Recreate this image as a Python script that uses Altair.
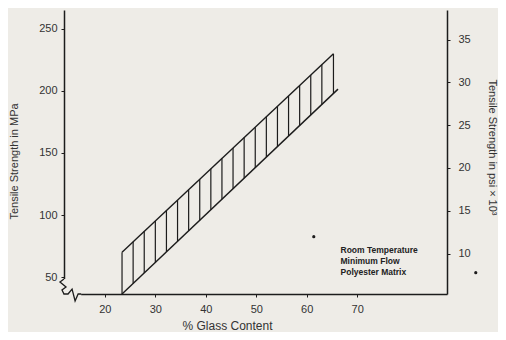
import altair as alt
import pandas as pd

# ---- data ----
x_domain = [11.9, 87.8]          # % glass content
mpa_domain = [36.3, 265.3]       # MPa
MPA_PER_KSI = 6.895
psi_domain = [mpa_domain[0] / MPA_PER_KSI, mpa_domain[1] / MPA_PER_KSI]

x_ticks = [20, 30, 40, 50, 60, 70]
mpa_ticks = [50, 100, 150, 200, 250]
psi_ticks = [10, 15, 20, 25, 30, 35]

# band boundaries
upper_x = [23.4, 65.3]
upper_y = [70.0, 230.0]
lower_x = [23.4, 66.2]
lower_y = [36.3, 201.5]

# vertical hatch lines of the band
hatch_x = [23.4, 25.6, 27.8, 30.0, 32.2, 34.4, 36.6, 38.8, 41.0, 43.2,
           45.4, 47.6, 49.8, 52.0, 54.2, 56.4, 58.6, 60.8, 63.0, 65.3]
hatch_low = [36.3, 44.8, 53.3, 61.8, 70.3, 78.8, 87.3, 95.7, 104.2, 112.7,
             121.2, 129.7, 138.2, 146.7, 155.2, 163.7, 172.2, 180.7, 189.2, 198.0]
hatch_high = [70.0, 78.4, 86.8, 95.2, 103.6, 112.0, 120.4, 128.8, 137.2, 145.6,
              154.0, 162.4, 170.8, 179.2, 187.6, 196.0, 204.4, 212.8, 221.2, 230.0]

dots_x = [61.4, 93.5]
dots_y = [82.5, 53.5]

note_lines = ["Room Temperature", "Minimum Flow", "Polyester Matrix"]
note_x = [66.7]
note_y = [71.8]

# axis-break symbol at the lower-left corner (data units)
break_x = [11.9, 11.1, 12.3, 11.5, 11.9, 12.7, 13.5, 14.1, 14.7, 15.3]
break_y = [48.4, 46.0, 41.9, 39.5, 36.3, 36.3, 40.3, 30.7, 36.3, 36.3]

FONT = "Liberation Sans"
INK = "#1c1c1c"
BG = "#eeece7"

# ---- encodings ----
xscale = alt.Scale(domain=x_domain, nice=False, zero=False)
yscale = alt.Scale(domain=mpa_domain, nice=False, zero=False)

x_axis = alt.Axis(values=x_ticks, grid=False, tickSize=3, labelPadding=6,
                  labelFontSize=11, labelColor="#333", labelFont=FONT,
                  titleFont=FONT, titleFontSize=12, titleFontWeight="normal",
                  titleColor="#333", titleX=163, titleY=31,
                  titleBaseline="middle", titleAnchor="start", titleAlign="center",
                  domainColor=INK, domainWidth=1.3, tickColor=INK)
y_axis = alt.Axis(values=mpa_ticks, grid=False, tickSize=3, labelPadding=4,
                  labelFontSize=11, labelColor="#333", labelFont=FONT,
                  titleFont=FONT, titleFontSize=11, titleFontWeight="normal",
                  titleColor="#333", titleAngle=270, titleX=-50, titleY=151,
                  titleBaseline="middle", titleAlign="center", titleAnchor="start",
                  domainColor=INK, domainWidth=1.5, tickColor=INK)
psi_axis = alt.Axis(values=psi_ticks, orient="right", grid=False, tickSize=3,
                    labelPadding=8, labelFontSize=11, labelColor="#333",
                    labelFont=FONT, titleFont=FONT, titleFontSize=11,
                    titleFontWeight="normal", titleColor="#333", titleAngle=90,
                    titleX=44, titleY=137, titleBaseline="middle",
                    titleAlign="center", titleAnchor="start",
                    domainColor=INK, domainWidth=1.5, tickColor=INK)


def X(field="x"):
    return alt.X(f"{field}:Q", scale=xscale, axis=x_axis, title="% Glass Content")


def Y(field="y"):
    return alt.Y(f"{field}:Q", scale=yscale, axis=y_axis, title="Tensile Strength in MPa")


hatch_df = pd.DataFrame({"x": hatch_x, "y": hatch_low, "y2": hatch_high})
upper_df = pd.DataFrame({"x": upper_x, "y": upper_y})
lower_df = pd.DataFrame({"x": lower_x, "y": lower_y})
dots_df = pd.DataFrame({"x": dots_x, "y": dots_y})
note_df = pd.DataFrame({"x": note_x, "y": note_y, "t": ["\n".join(note_lines)]})
break_df = pd.DataFrame({"x": break_x, "y": break_y, "o": list(range(len(break_x)))})
mask_df = pd.DataFrame({"x": [break_x[0], break_x[4]], "x2": [break_x[0], break_x[-1]],
                        "y": [break_y[0], break_y[4]], "y2": [break_y[4], break_y[-1]]})

mask = alt.Chart(mask_df).mark_rule(color=BG, strokeWidth=4).encode(
    x=X(), x2="x2:Q", y=Y(), y2="y2:Q")
brk = alt.Chart(break_df).mark_line(color=INK, strokeWidth=1.3).encode(
    x=X(), y=Y(), order="o:Q")
hatch = alt.Chart(hatch_df).mark_rule(color=INK, strokeWidth=1.2).encode(
    x=X(), y=Y(), y2="y2:Q")
upper = alt.Chart(upper_df).mark_line(color=INK, strokeWidth=1.4).encode(x=X(), y=Y())
lower = alt.Chart(lower_df).mark_line(color=INK, strokeWidth=1.4).encode(x=X(), y=Y())
dots = alt.Chart(dots_df).mark_circle(color=INK, size=10, opacity=1).encode(x=X(), y=Y())
note = alt.Chart(note_df).mark_text(align="left", baseline="middle", font=FONT,
                                    fontSize=8.5, fontWeight="bold", color="#222",
                                    lineBreak="\n", lineHeight=11).encode(
    x=X(), y=Y(), text="t:N")

mpa_layer = alt.layer(mask, brk, hatch, upper, lower, dots, note)

psi_df = pd.DataFrame({"x": [x_domain[0], x_domain[0]], "p": psi_domain})
psi_layer = alt.Chart(psi_df).mark_point(opacity=0).encode(
    x=X(),
    y=alt.Y("p:Q", scale=alt.Scale(domain=psi_domain, nice=False, zero=False),
            axis=psi_axis, title="Tensile Strength in psi \u00d7 10\u00b3"))

chart = alt.layer(mpa_layer, psi_layer).resolve_scale(y="independent").properties(
    width=383, height=284,
    autosize=alt.AutoSizeParams(type="none"),
    padding={"left": 56, "top": 2, "right": 51, "bottom": 38},
    background=BG,
).configure_view(stroke=None)

chart.save("out.html", embed_options={"renderer": "svg", "actions": False})
